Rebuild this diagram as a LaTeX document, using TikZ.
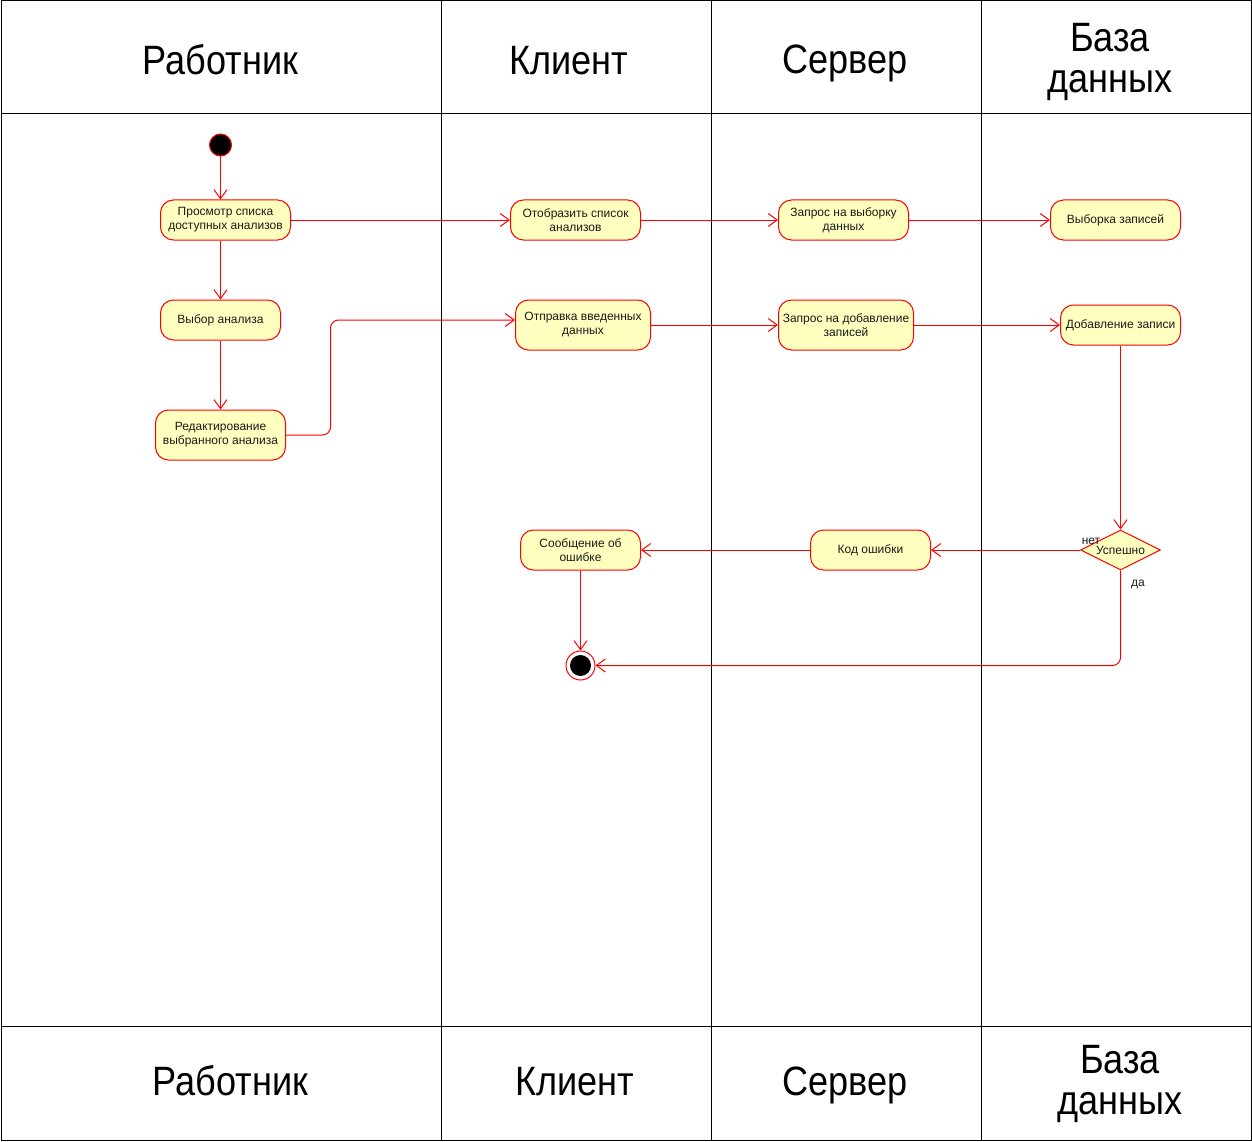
\documentclass[tikz,border=0pt]{standalone}
\usepackage{fontspec}
\setmainfont{Liberation Sans}
\newfontfamily\hdrfont[FakeStretch=0.88]{Liberation Sans}
\usetikzlibrary{arrows.meta,shapes.geometric}
\definecolor{actfill}{HTML}{FFFFC0}
\definecolor{umlred}{HTML}{FF0000}
\definecolor{txt}{HTML}{1A1A1A}
\begin{document}
\begin{tikzpicture}[x=1pt,y=-1pt,
  lane/.style={draw=black,line width=1pt},
  hdr/.style={font=\hdrfont\fontsize{41}{41}\selectfont,align=center,text=black,inner sep=0pt},
  act/.style={draw=umlred,fill=actfill,rounded corners=13pt,line width=1pt,
     align=center,font=\fontsize{12}{14}\selectfont,text=txt,inner sep=0pt},
  flow/.style={draw=umlred,line width=1pt,-{Straight Barb[length=9pt,width=13pt,line width=1pt]}},
  lbl/.style={font=\fontsize{12}{14}\selectfont,text=txt,inner sep=0pt}]
\useasboundingbox (0,0) rectangle (1252,1142);
\fill[white] (0,0) rectangle (1252,1142);
% swimlanes
\draw[lane] (1,1) rectangle (1251,1140);
\draw[lane] (1,114) -- (1251,114);
\draw[lane] (1,1026) -- (1251,1026);
\foreach \x in {441,711,981} \draw[lane] (\x,1) -- (\x,1140);
% headers
\node[hdr,anchor=base] (h1) at (220.5,75) {Работник};
\node[hdr,anchor=base] (h2) at (569,75) {Клиент};
\node[hdr,anchor=base] (h3) at (845,74) {Сервер};
\node[hdr] (h4) at (1110,62) {База\\данных};
\node[hdr,anchor=base] (f1) at (230.5,1095) {Работник};
\node[hdr,anchor=base] (f2) at (575,1095) {Клиент};
\node[hdr,anchor=base] (f3) at (845,1095) {Сервер};
\node[hdr] (f4) at (1120,1084) {База\\данных};
% nodes
\node[circle,draw=umlred,fill=black,line width=1pt,minimum size=22pt,inner sep=0pt] (start) at (220.5,145) {};
\node[act,minimum width=130pt,minimum height=40pt] (view) at (225.5,220) {Просмотр списка\\доступных анализов};
\node[act,minimum width=120pt,minimum height=40pt] (choose) at (220.5,320) {Выбор анализа};
\node[act,minimum width=130pt,minimum height=50pt] (edit) at (220.5,435) {Редактирование\\выбранного анализа};
\node[act,minimum width=130pt,minimum height=40pt] (show) at (575.5,220) {Отобразить список\\анализов};
\node[act,minimum width=135pt,minimum height=50pt] (send) at (583,325) {Отправка введенных\\данных};
\node[act,minimum width=130pt,minimum height=40pt] (qsel) at (843.5,220) {Запрос на выборку\\данных};
\node[act,minimum width=135pt,minimum height=50pt] (qadd) at (846,325) {Запрос на добавление\\записей};
\node[act,minimum width=130pt,minimum height=40pt] (sel) at (1115.5,220) {Выборка записей};
\node[act,minimum width=120pt,minimum height=40pt] (add) at (1120.5,325) {Добавление записи};
\node[diamond,draw=umlred,fill=actfill,line width=1pt,minimum width=80pt,minimum height=40pt,inner sep=0pt,aspect=2,font=\fontsize{12}{14}\selectfont,text=txt] (ok) at (1120.5,550) {Успешно};
\node[act,minimum width=120pt,minimum height=40pt] (err) at (870.5,550) {Код ошибки};
\node[act,minimum width=120pt,minimum height=40pt] (msg) at (580.5,550) {Сообщение об\\ошибке};
\node[circle,draw=umlred,fill=white,line width=1pt,minimum size=29pt,inner sep=0pt] (end) at (580.5,665.5) {};
\node[circle,fill=black,minimum size=21pt,inner sep=0pt] (endin) at (end.center) {};
% flows
\draw[flow] (start) -- (start |- view.north);
\draw[flow] (view.south -| start) -- (choose);
\draw[flow] (choose) -- (edit);
\draw[flow,rounded corners=8pt] (edit.east) -- (330.5,435) -- (330.5,320) -- (send.west |- 0,320);
\draw[flow] (view) -- (show);
\draw[flow] (show) -- (qsel);
\draw[flow] (qsel) -- (sel);
\draw[flow] (send) -- (qadd);
\draw[flow] (qadd) -- (add);
\draw[flow] (add) -- (ok);
\draw[flow] (ok) -- (err);
\draw[flow] (err) -- (msg);
\draw[flow] (msg) -- (end);
\draw[flow,rounded corners=8pt] (ok.south) -- (1120.5,665.5) -- (end.east);
% labels
\node[lbl] (no) at (1091,541) {нет};
\node[lbl] (yes) at (1138,584) {да};
\end{tikzpicture}
\end{document}
